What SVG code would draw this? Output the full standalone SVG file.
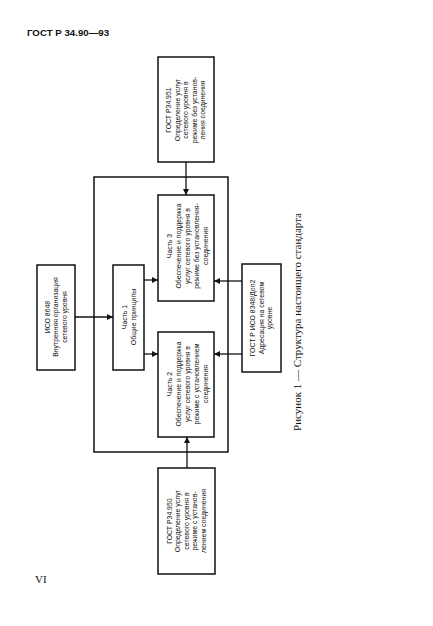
<svg xmlns="http://www.w3.org/2000/svg" width="433" height="626" viewBox="0 0 433 626">
<defs>
<marker id="ah" viewBox="0 0 10 10" refX="10" refY="5" markerWidth="7" markerHeight="6" markerUnits="userSpaceOnUse" orient="auto">
<path d="M0,0 L10,5 L0,10 z" fill="#111"/>
</marker>
<style>
.box{fill:#fff;stroke:#111;stroke-width:1.5}
.frame{fill:none;stroke:#111;stroke-width:1.5}
.t{font-family:"Liberation Sans",Arial,sans-serif;font-size:6.9px;fill:#111;text-anchor:middle}
.c{stroke:#111;stroke-width:1.3;fill:none;marker-end:url(#ah)}
</style>
</defs>
<rect width="433" height="626" fill="#fff"/>
<text x="27" y="36" font-family="Liberation Sans, Arial, sans-serif" font-weight="bold" font-size="9.7" fill="#111">ГОСТ Р 34.90—93</text>
<text x="35" y="583" font-family="Liberation Serif, Times New Roman, serif" font-size="11" fill="#111">VI</text>
<rect id="frame" class="frame" x="94" y="177" width="134" height="275"/>
<g id="connectors">
<line class="c" x1="186" y1="162" x2="186" y2="195"/>
<line class="c" x1="187" y1="468" x2="187" y2="437"/>
<line class="c" x1="75" y1="317" x2="113" y2="317"/>
<line class="c" x1="144" y1="280" x2="158" y2="280"/>
<line class="c" x1="144" y1="354" x2="158" y2="354"/>
<line class="c" x1="242" y1="281" x2="214" y2="281"/>
<line class="c" x1="242" y1="354" x2="214" y2="354"/>
</g>
<g id="top">
<rect class="box" x="158" y="57" width="56" height="105"/>
<g transform="translate(186,110) rotate(-90)">
<text class="t" x="0" y="-15">ГОСТ Р34.951</text>
<text class="t" x="0" y="-6.5">Определение услуг</text>
<text class="t" x="0" y="2">сетевого уровня в</text>
<text class="t" x="0" y="10.5">режиме без установ-</text>
<text class="t" x="0" y="19">ления соединения</text>
</g>
</g>
<g id="part3">
<rect class="box" x="158" y="195" width="56" height="106"/>
<g transform="translate(187,246) rotate(-90)">
<text class="t" x="0" y="-15">Часть 3</text>
<text class="t" x="0" y="-6">Обеспечение и поддержка</text>
<text class="t" x="0" y="3">услуг сетевого уровня в</text>
<text class="t" x="0" y="12">режиме без установления-</text>
<text class="t" x="0" y="21">соединения</text>
</g>
</g>
<g id="part2">
<rect class="box" x="158" y="332" width="56" height="105"/>
<g transform="translate(187,384) rotate(-90)">
<text class="t" x="0" y="-15">Часть 2</text>
<text class="t" x="0" y="-6">Обеспечение и поддержка</text>
<text class="t" x="0" y="3">услуг сетевого уровня в</text>
<text class="t" x="0" y="12">режиме с установлением</text>
<text class="t" x="0" y="21">соединения</text>
</g>
</g>
<g id="part1">
<rect class="box" x="113" y="265" width="31" height="105"/>
<g transform="translate(128.5,317) rotate(-90)">
<text class="t" x="0" y="-2">Часть 1</text>
<text class="t" x="0" y="7">Общие принципы</text>
</g>
</g>
<g id="iso8648">
<rect class="box" x="37" y="265" width="38" height="105"/>
<g transform="translate(56,317) rotate(-90)">
<text class="t" x="0" y="-6.5">ИСО 8648</text>
<text class="t" x="0" y="2">Внутренняя организация</text>
<text class="t" x="0" y="10.5">сетевого уровня</text>
</g>
</g>
<g id="iso8348">
<rect class="box" x="242" y="264" width="39" height="108"/>
<g transform="translate(261.5,318) rotate(-90)">
<text class="t" x="0" y="-6.5">ГОСТ Р ИСО 8348/Доп2</text>
<text class="t" x="0" y="2">Адресация на сетевом</text>
<text class="t" x="0" y="10.5">уровне</text>
</g>
</g>
<g id="bottom">
<rect class="box" x="158" y="468" width="57" height="106"/>
<g transform="translate(186.5,521) rotate(-90)">
<text class="t" x="0" y="-15">ГОСТ Р34.950</text>
<text class="t" x="0" y="-6.5">Определение услуг</text>
<text class="t" x="0" y="2">сетевого уровня в</text>
<text class="t" x="0" y="10.5">режиме с установ-</text>
<text class="t" x="0" y="19">лением соединения</text>
</g>
</g>
<text transform="translate(301,322) rotate(-90)" text-anchor="middle" font-family="Liberation Serif, Times New Roman, serif" font-size="11" fill="#111">Рисунок 1 — Структура настоящего стандарта</text>
</svg>
